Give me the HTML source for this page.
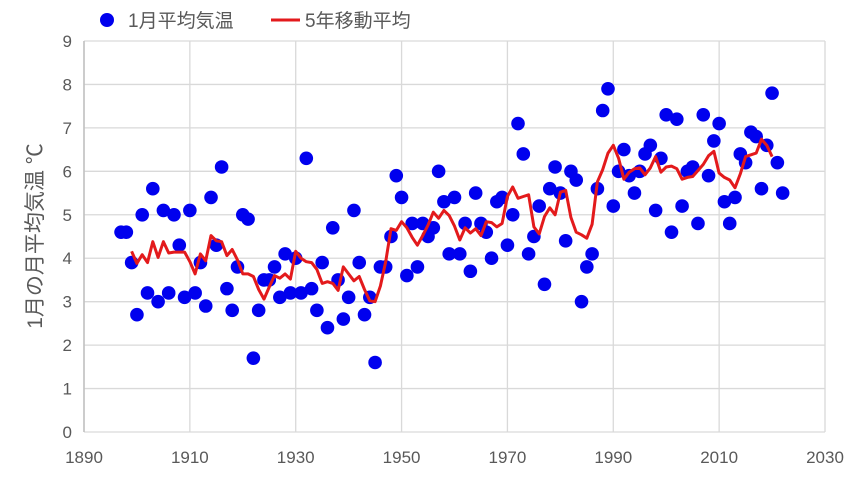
<!DOCTYPE html>
<html><head><meta charset="utf-8"><style>
body{margin:0;background:#fff;}
svg{display:block;font-family:"Liberation Sans","Noto Sans CJK JP",sans-serif;}
</style></head><body>
<svg id="chart" width="858" height="481" viewBox="0 0 858 481">
<g id="grid"></g>
<g id="axes"></g>
<g id="marks"></g>
<text transform="translate(42,236) rotate(-90)" text-anchor="middle" font-size="21" fill="#595959">1月の月平均気温 ℃</text>
<g>
<circle cx="107" cy="20" r="7" fill="#0000ee"/>
<text x="128" y="27" font-size="19" fill="#595959">1月平均気温</text>
<line x1="271" y1="20" x2="300" y2="20" stroke="#e31a1c" stroke-width="3"/>
<text x="305" y="27" font-size="19" fill="#595959">5年移動平均</text>
</g>
</svg>
<script>
const startYear = 1897;
const temps = [4.6,4.6,3.9,2.7,5.0,3.2,5.6,3.0,5.1,3.2,5.0,4.3,3.1,5.1,3.2,3.9,2.9,5.4,4.3,6.1,3.3,2.8,3.8,5.0,4.9,1.7,2.8,3.5,3.5,3.8,3.1,4.1,3.2,4.0,3.2,6.3,3.3,2.8,3.9,2.4,4.7,3.5,2.6,3.1,5.1,3.9,2.7,3.1,1.6,3.8,3.8,4.5,5.9,5.4,3.6,4.8,3.8,4.8,4.5,4.7,6.0,5.3,4.1,5.4,4.1,4.8,3.7,5.5,4.8,4.6,4.0,5.3,5.4,4.3,5.0,7.1,6.4,4.1,4.5,5.2,3.4,5.6,6.1,5.5,4.4,6.0,5.8,3.0,3.8,4.1,5.6,7.4,7.9,5.2,6.0,6.5,5.9,5.5,6.0,6.4,6.6,5.1,6.3,7.3,4.6,7.2,5.2,6.0,6.1,4.8,7.3,5.9,6.7,7.1,5.3,4.8,5.4,6.4,6.2,6.9,6.8,5.6,6.6,7.8,6.2,5.5];
const xTicks = [1890,1910,1930,1950,1970,1990,2010,2030];
const yTicks = [0,1,2,3,4,5,6,7,8,9];
const NS="http://www.w3.org/2000/svg";
const X0=84,X1=825,Y0=432,Y1=41;
const xScale=y=>X0+(y-1890)/(2030-1890)*(X1-X0);
const yScale=v=>Y0-v/9*(Y0-Y1);
function mk(tag,attrs,parent){const e=document.createElementNS(NS,tag);for(const k in attrs)e.setAttribute(k,attrs[k]);parent.appendChild(e);return e;}
const grid=document.getElementById('grid'),axes=document.getElementById('axes'),marks=document.getElementById('marks');
yTicks.forEach(t=>{
  const l=mk('line',{x1:X0,x2:X1,y1:yScale(t),y2:yScale(t),stroke:'#d9d9d9','stroke-width':1.3},grid);
  
  
  const tx=mk('text',{x:X0-12,y:yScale(t)+6,'text-anchor':'end','font-size':17,fill:'#595959'},axes);
  tx.textContent=t;
  
  
});
xTicks.forEach(t=>{
  const l=mk('line',{x1:xScale(t),x2:xScale(t),y1:Y1,y2:Y0,stroke:'#d9d9d9','stroke-width':1.3},grid);
  
  
  const tx=mk('text',{x:xScale(t),y:Y0+31,'text-anchor':'middle','font-size':17,fill:'#595959'},axes);
  tx.textContent=t;
  
  
});
const ax=mk('line',{x1:X0,x2:X0,y1:Y1,y2:Y0,stroke:'#bfbfbf','stroke-width':1.5},axes);


temps.forEach((v,i)=>{
  const c=mk('circle',{cx:xScale(startYear+i),cy:yScale(v),r:6.8,fill:'#0000ee'},marks);
  
  
});
const pts=[];
for(let i=2;i<temps.length-2;i++){
  let s=0;for(let j=-2;j<=2;j++)s+=temps[i+j];
  pts.push(xScale(startYear+i).toFixed(1)+','+yScale(s/5).toFixed(1));
}
const pl=mk('polyline',{points:pts.join(' '),fill:'none',stroke:'#e31a1c','stroke-width':3,'stroke-linejoin':'round'},marks);


</script>
</body></html>
